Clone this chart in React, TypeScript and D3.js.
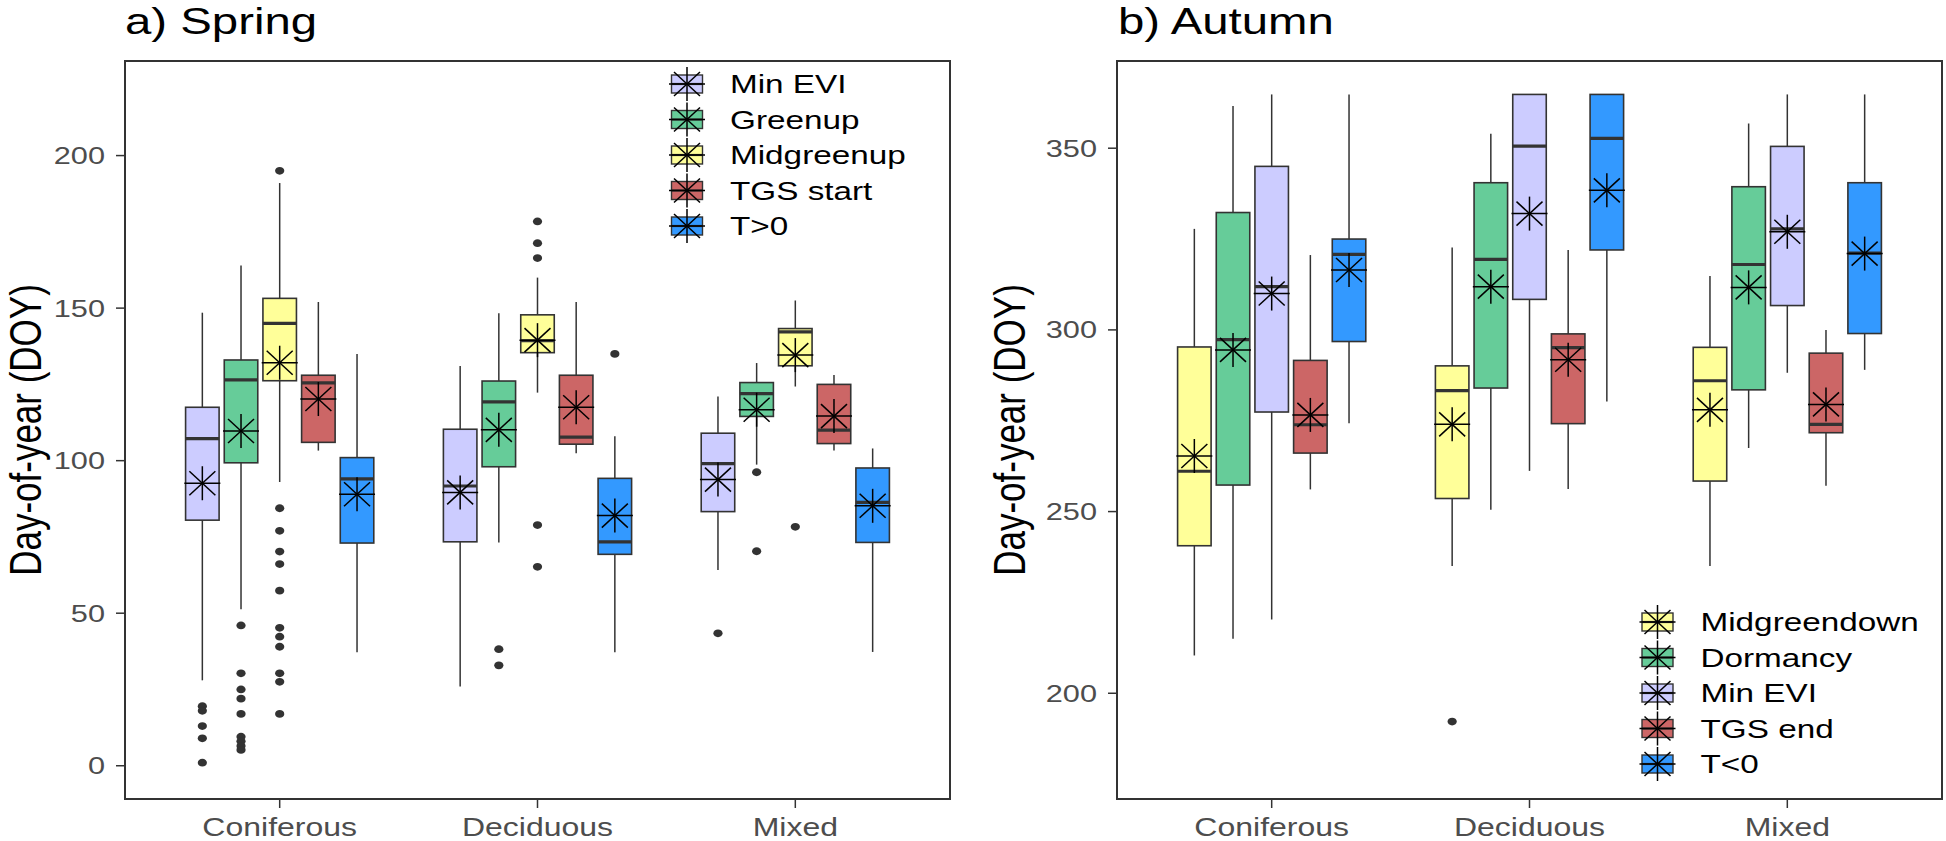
import React from 'react';
import * as d3 from 'd3';

const categories = ['Coniferous', 'Deciduous', 'Mixed'];

const springSeries = ['Min EVI', 'Greenup', 'Midgreenup', 'TGS start', 'T>0'];
const springColors = ['#CCCCFF', '#66CC99', '#FFFF99', '#CC6666', '#3399FF'];
const springTicks = [0, 50, 100, 150, 200];
// values indexed [series][category]
const springLower = [[28, 26, 64.2], [51.3, 73.2, 98.7], [93, 122.3, 124.3], [103.3, 102.4, 103.3], [37.2, 37.2, 37.3]];
const springQ1 = [[80.5, 73.4, 83.3], [99.3, 98, 114.5], [126.2, 135.4, 131.1], [106, 105.4, 105.6], [73, 69.3, 73.2]];
const springMedian = [[107.2, 91.7, 99], [126.5, 119.3, 122], [145, 139.3, 142.2], [125.5, 107.7, 110], [94, 73.4, 86.3]];
const springQ3 = [[117.5, 110.3, 109], [133, 126.1, 125.6], [153.2, 147.8, 143.3], [128, 128, 125], [101, 94.2, 97.6]];
const springUpper = [[148.5, 131, 121], [164, 148.3, 132], [191, 160, 152.5], [152, 152, 128.1], [135, 108, 104]];
const springMean = [[92.6, 89.6, 93.8], [109.7, 110.1, 116.7], [132.1, 139.5, 134.6], [120.2, 117.5, 114.6], [89, 82, 85.2]];
const springOutliers = [
  [[19.5, 18, 13, 9, 1], [], [43.4]],
  [[46, 30.3, 25, 22, 17, 9.5, 8, 6.5, 5.2], [38.2, 32.9], [96.2, 70.3]],
  [[195, 84.4, 77, 70.2, 66.1, 57.4, 45.2, 42.3, 39, 30.3, 27.5, 17], [178.4, 171.3, 166.4, 78.9, 65.2], [78.3]],
  [[], [], []],
  [[], [135], []],
];

const autumnSeries = ['Midgreendown', 'Dormancy', 'Min EVI', 'TGS end', 'T<0'];
const autumnColors = ['#FFFF99', '#66CC99', '#CCCCFF', '#CC6666', '#3399FF'];
const autumnTicks = [200, 250, 300, 350];
const autumnLower = [[210.4, 235, 235], [215, 250.5, 267.5], [220.3, 261.2, 288.2], [256.1, 256.2, 257.1], [274.3, 280.3, 289]];
const autumnQ1 = [[240.6, 253.6, 258.4], [257.3, 284, 283.5], [277.4, 308.4, 306.7], [266.1, 274.2, 271.7], [296.8, 322, 299]];
const autumnMedian = [[261.1, 283.3, 286], [297.3, 319.4, 318], [311.9, 350.6, 327.8], [273.9, 295.1, 274], [320.8, 352.7, 321.1]];
const autumnQ3 = [[295.3, 290.1, 295.2], [332.3, 340.5, 339.4], [345, 364.8, 350.5], [291.6, 298.9, 293.6], [325, 364.8, 340.5]];
const autumnUpper = [[327.8, 322.7, 314.8], [361.6, 354, 356.8], [364.8, 364.8, 364.8], [320.6, 322, 300], [364.8, 364.8, 364.8]];
const autumnMean = [[265.3, 274, 278], [294.5, 311.9, 311.7], [310, 332, 327], [276.6, 291.8, 279.5], [316.5, 338.4, 321]];
const autumnOutliers = [
  [[], [192.2], []],
  [[], [], []],
  [[], [], []],
  [[], [], []],
  [[], [], []],
];

const SX = 1.28;
const FONT = '"Liberation Sans", Arial, Helvetica, sans-serif';
const DARK = '#333333';
const TOP = 61;
const BOTTOM = 799;

function Txt({ x, y, size, anchor = 'start', fill = '#000', rotate = false, children }: any) {
  return (
    <text
      transform={`translate(${x},${y}) scale(${SX},1)${rotate ? ' rotate(-90)' : ''}`}
      fontSize={size}
      fontFamily={FONT}
      textAnchor={anchor}
      fill={fill}
    >
      {children}
    </text>
  );
}

function Asterisk({ cx, cy }: any) {
  const rh = 18, rv = 17, dh = 13, dv = 12;
  return (
    <g stroke="#000" strokeWidth={1.5}>
      <line x1={cx - rh} x2={cx + rh} y1={cy} y2={cy} />
      <line x1={cx} x2={cx} y1={cy - rv} y2={cy + rv} />
      <line x1={cx - dh} x2={cx + dh} y1={cy - dv} y2={cy + dv} />
      <line x1={cx - dh} x2={cx + dh} y1={cy + dv} y2={cy - dv} />
    </g>
  );
}

function Panel(p: any) {
  const { x0, x1, domain, ticks, series, colors, lower, q1, median, q3, upper, mean, outliers, title, legX, legY, titleX, ylabX } = p;
  const x = d3.scaleBand().domain(categories).range([x0, x1]).paddingInner(0).paddingOuter(0.1);
  const step = x.step();
  const dodge = d3.scaleBand().domain(series).range([-0.375 * step, 0.375 * step]);
  const bw = 0.13 * step;
  const y = d3.scaleLinear().domain(domain).range([BOTTOM, TOP]);
  return (
    <g>
      <Txt x={titleX} y={34} size={37}>{title}</Txt>
      <Txt x={ylabX} y={(TOP + BOTTOM) / 2} size={35} anchor="middle" rotate>Day-of-year (DOY)</Txt>
      {ticks.map((t: number) => (
        <g key={t}>
          <line x1={x0 - 9} x2={x0} y1={y(t)} y2={y(t)} stroke={DARK} strokeWidth={1.5} />
          <Txt x={x0 - 20} y={y(t) + 8.5} size={24} anchor="end" fill="#4D4D4D">{t}</Txt>
        </g>
      ))}
      {categories.map((c) => {
        const cx = (x(c) as number) + step / 2;
        return (
          <g key={c}>
            <line x1={cx} x2={cx} y1={BOTTOM} y2={BOTTOM + 9} stroke={DARK} strokeWidth={1.5} />
            <Txt x={cx} y={836} size={25} anchor="middle" fill="#4D4D4D">{c}</Txt>
          </g>
        );
      })}
      {series.map((s: string, si: number) =>
        categories.map((c, ci) => {
          const cx = (x(c) as number) + step / 2 + (dodge(s) as number) + dodge.bandwidth() / 2;
          return (
            <g key={s + c}>
              <line x1={cx} x2={cx} y1={y(upper[si][ci])} y2={y(q3[si][ci])} stroke={DARK} strokeWidth={1.5} />
              <line x1={cx} x2={cx} y1={y(q1[si][ci])} y2={y(lower[si][ci])} stroke={DARK} strokeWidth={1.5} />
              <rect x={cx - bw / 2} width={bw} y={y(q3[si][ci])} height={y(q1[si][ci]) - y(q3[si][ci])}
                fill={colors[si]} stroke={DARK} strokeWidth={1.6} />
              <line x1={cx - bw / 2} x2={cx + bw / 2} y1={y(median[si][ci])} y2={y(median[si][ci])} stroke={DARK} strokeWidth={3.2} />
              {outliers[si][ci].map((v: number, k: number) => (
                <ellipse key={k} cx={cx} cy={y(v)} rx={4.6} ry={3.9} fill={DARK} />
              ))}
              <Asterisk cx={cx} cy={y(mean[si][ci])} />
            </g>
          );
        })
      )}
      <rect x={x0} y={TOP} width={x1 - x0} height={BOTTOM - TOP} fill="none" stroke={DARK} strokeWidth={2} />
      {series.map((s: string, i: number) => {
        const cy = legY + i * 35.5;
        return (
          <g key={'leg' + s}>
            <rect x={legX - 15.5} y={cy - 9} width={31} height={18} fill={colors[i]} stroke={DARK} strokeWidth={1.4} />
            <line x1={legX - 15.5} x2={legX + 15.5} y1={cy} y2={cy} stroke={DARK} strokeWidth={2.2} />
            <Asterisk cx={legX} cy={cy} />
            <Txt x={legX + 43} y={cy + 9.3} size={26}>{s}</Txt>
          </g>
        );
      })}
    </g>
  );
}

export default function App() {
  return (
    <svg width={1946} height={841} style={{ position: 'absolute', left: 0, top: 0, background: '#fff' }}>
      <rect width={1946} height={841} fill="#fff" />
      <Panel x0={125} x1={950} domain={[-10.9, 231]} ticks={springTicks} series={springSeries} colors={springColors}
        lower={springLower} q1={springQ1} median={springMedian} q3={springQ3} upper={springUpper} mean={springMean}
        outliers={springOutliers} title="a) Spring" titleX={125} ylabX={41} legX={687} legY={84} />
      <Panel x0={1117} x1={1942} domain={[170.9, 374]} ticks={autumnTicks} series={autumnSeries} colors={autumnColors}
        lower={autumnLower} q1={autumnQ1} median={autumnMedian} q3={autumnQ3} upper={autumnUpper} mean={autumnMean}
        outliers={autumnOutliers} title="b) Autumn" titleX={1118} ylabX={1025} legX={1657.5} legY={622} />
    </svg>
  );
}
